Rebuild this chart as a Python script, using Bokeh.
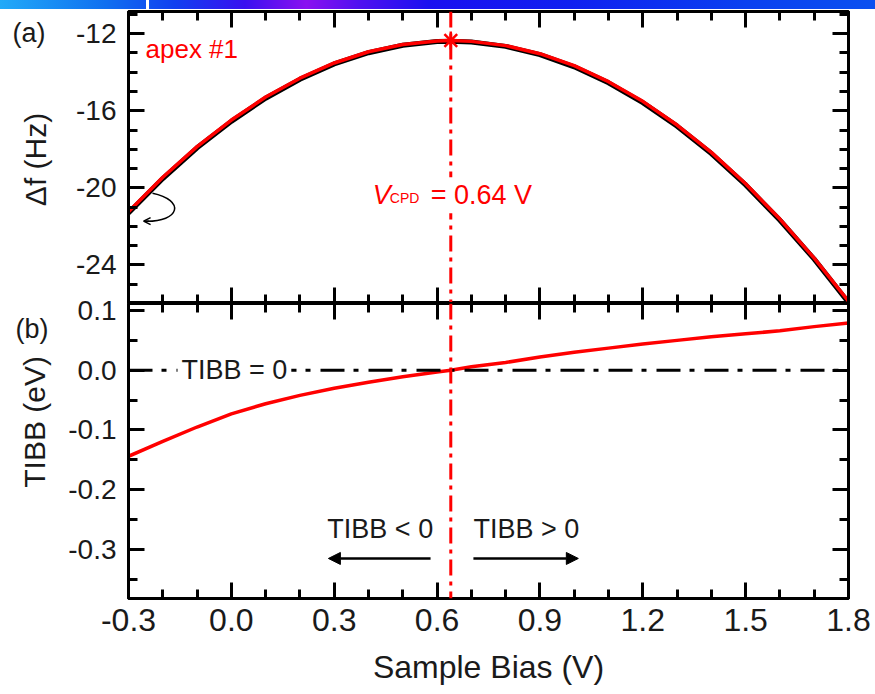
import math
from bokeh.plotting import figure
from bokeh.models import (Range1d, LinearAxis, FixedTicker, Span, Label, Arrow,
                          NormalHead, OpenHead, Div, ColumnDataSource,
                          CustomLabelingPolicy)
from bokeh.layouts import column, row
from bokeh.embed import file_html
from bokeh.resources import INLINE

# ---------------- data ----------------
bias_v = [-0.3, -0.2, -0.1, 0.0, 0.1, 0.2, 0.3, 0.4, 0.5, 0.6, 0.64, 0.7, 0.8,
          0.9, 1.0, 1.1, 1.2, 1.3, 1.4, 1.5, 1.6, 1.7, 1.8]
df_fit_hz = [-21.24, -19.45, -17.86, -16.48, -15.29, -14.31, -13.52, -12.94,
             -12.56, -12.38, -12.36, -12.40, -12.62, -13.04, -13.66, -14.49,
             -15.51, -16.74, -18.16, -19.79, -21.62, -23.65, -25.88]
df_measured_hz = [-21.30, -19.52, -17.92, -16.55, -15.35, -14.37, -13.57, -12.99,
                  -12.60, -12.41, -12.39, -12.43, -12.66, -13.09, -13.72, -14.55,
                  -15.58, -16.80, -18.22, -19.85, -21.68, -23.70, -25.95]
tibb_ev = [-0.144, -0.119, -0.095, -0.073, -0.056, -0.042, -0.030, -0.020,
           -0.011, -0.003, 0.0, 0.006, 0.013, 0.022, 0.030, 0.037, 0.044,
           0.050, 0.056, 0.061, 0.066, 0.073, 0.079]
apex_v = [0.64]
apex_df_hz = [-12.36]
v_cpd = 0.64

x_ticks = [-0.3, 0.0, 0.3, 0.6, 0.9, 1.2, 1.5, 1.8]
x_tick_labels = ["-0.3", "0.0", "0.3", "0.6", "0.9", "1.2", "1.5", "1.8"]
x_minor = [-0.2, -0.1, 0.1, 0.2, 0.4, 0.5, 0.7, 0.8, 1.0, 1.1, 1.3, 1.4, 1.6, 1.7]
df_ticks = [-12, -16, -20, -24]
df_tick_labels = ["-12", "-16", "-20", "-24"]
df_minor = [-11, -13, -14, -15, -17, -18, -19, -21, -22, -23, -25, -26]
tibb_ticks = [0.1, 0.0, -0.1, -0.2, -0.3]
tibb_tick_labels = ["0.1", "0.0", "-0.1", "-0.2", "-0.3"]
tibb_minor = [0.05, -0.05, -0.15, -0.25, -0.35]

FONT = "Liberation Sans"
RED = "#ff0000"
INK = "#1a1a1a"
STRIP_W = 60
OVERLAP = 12   # bottom canvas starts this far above the shared frame line

src = ColumnDataSource(dict(v=bias_v, fit=df_fit_hz, meas=df_measured_hz, tibb=tibb_ev))


def style_axis(ax, ticks, minor, labels=None, size="28px"):
    ax.ticker = FixedTicker(ticks=ticks, minor_ticks=minor)
    ax.major_tick_in = 16
    ax.major_tick_out = 0
    ax.minor_tick_in = 9
    ax.minor_tick_out = 0
    ax.major_tick_line_width = 3
    ax.minor_tick_line_width = 3
    ax.major_tick_line_color = "black"
    ax.minor_tick_line_color = "black"
    ax.axis_line_width = 3
    ax.axis_line_color = "black"
    ax.axis_label = None
    if labels is not None:
        ax.major_label_overrides = {t: s for t, s in zip(ticks, labels)}
        ax.major_label_text_font = FONT
        ax.major_label_text_font_size = size
        ax.major_label_text_color = INK
        ax.major_label_standoff = 12
    else:
        ax.major_label_text_font_size = "0px"
        ax.major_label_standoff = 0
        ax.major_label_policy = CustomLabelingPolicy(code="return new Set()")


def make_fig(height, yr, top, bottom, **kw):
    p = figure(width=875 - STRIP_W, height=height, x_range=Range1d(-0.3, 1.8), y_range=yr,
               output_backend="svg", toolbar_location=None,
               min_border_left=128 - STRIP_W, min_border_right=27,
               min_border_top=top, min_border_bottom=bottom, **kw)
    p.grid.visible = False
    p.outline_line_color = "black"
    p.outline_line_width = 3
    p.background_fill_color = "white"
    p.border_fill_color = "white"
    return p


def make_strip(height, page_top):
    # narrow strip left of a panel; its ranges are page pixel positions
    s = figure(width=STRIP_W, height=height, x_range=Range1d(0, STRIP_W),
               y_range=Range1d(page_top + height, page_top),
               output_backend="svg", toolbar_location=None,
               x_axis_location=None, y_axis_location=None,
               min_border_left=0, min_border_right=0, min_border_top=0, min_border_bottom=0)
    s.grid.visible = False
    s.outline_line_color = None
    s.background_fill_color = "white"
    s.border_fill_color = "white"
    return s


# ---------------- top panel (a) ----------------
pa = make_fig(294, Range1d(-26.0, -10.85), 2, 0)
style_axis(pa.xaxis[0], x_ticks, x_minor)
style_axis(pa.yaxis[0], df_ticks, df_minor, df_tick_labels)
ra = LinearAxis()
style_axis(ra, df_ticks, df_minor)
pa.add_layout(ra, "right")
ta = LinearAxis()
style_axis(ta, x_ticks, x_minor)
pa.add_layout(ta, "above")

pa.add_layout(Span(location=v_cpd, dimension="height", line_color=RED,
                   line_width=3, line_dash="16 6 4 6"))
pa.line("v", "meas", source=src, line_color="black", line_width=5)
pa.line("v", "fit", source=src, line_color=RED, line_width=3.5)
pa.scatter(apex_v, apex_df_hz, marker="asterisk", size=18, line_color=RED, line_width=2.5)

# curved pointer to the left axis
pa.bezier(x0=[-0.230], y0=[-20.28], x1=[-0.253], y1=[-21.73],
          cx0=[-0.134], cy0=[-20.64], cx1=[-0.148], cy1=[-21.78],
          line_color="black", line_width=1.5)
pa.add_layout(Arrow(end=OpenHead(size=7, line_width=1.5, line_color="black"),
                    x_start=-0.240, y_start=-21.73, x_end=-0.256, y_end=-21.73,
                    line_width=1.5, line_color="black"))

pa.add_layout(Label(x=-0.3, y=-12.80, x_offset=17, text="apex #1", text_font=FONT,
                    text_font_size="26px", text_baseline="alphabetic", text_color=RED))
pa.add_layout(Label(x=v_cpd, y=-20.38, x_offset=-23, text="= 0.64 V", text_font=FONT,
                    text_font_size="27px", text_baseline="alphabetic", text_color=RED,
                    background_fill_color="white", padding=3))
pa.add_layout(Label(x=v_cpd, y=-20.38, x_offset=-78, text="V", text_font=FONT,
                    text_font_size="27px", text_font_style="italic",
                    text_baseline="alphabetic", text_color=RED))
pa.add_layout(Label(x=v_cpd, y=-20.54, x_offset=-61, text="CPD", text_font=FONT,
                    text_font_size="14px", text_baseline="alphabetic", text_color=RED))

sa = make_strip(294, 9)
sa.add_layout(Label(x=12, y=31, text="(a)", text_font=FONT, text_font_size="27px",
                    text_baseline="middle", text_align="left", text_color=INK))
sa.add_layout(Label(x=35, y=158, text="Δf (Hz)", text_font=FONT, text_font_size="30px",
                    text_baseline="middle", text_align="center", angle=math.pi / 2,
                    text_color=INK))

# ---------------- bottom panel (b) ----------------
pb = make_fig(391 + OVERLAP, Range1d(-0.382, 0.1117), OVERLAP, 96,
              margin=(-OVERLAP, 0, 0, 0))
pb.border_fill_alpha = 0.0
style_axis(pb.xaxis[0], x_ticks, x_minor, x_tick_labels, size="32px")
pb.xaxis[0].major_label_standoff = 10
pb.xaxis[0].axis_label = "Sample Bias (V)"
pb.xaxis[0].axis_label_text_font = FONT
pb.xaxis[0].axis_label_text_font_size = "32px"
pb.xaxis[0].axis_label_text_font_style = "normal"
pb.xaxis[0].axis_label_text_color = INK
pb.xaxis[0].axis_label_standoff = 15
style_axis(pb.yaxis[0], tibb_ticks, tibb_minor, tibb_tick_labels)
rb = LinearAxis()
style_axis(rb, tibb_ticks, tibb_minor)
pb.add_layout(rb, "right")
tb = LinearAxis()
style_axis(tb, x_ticks, x_minor)
pb.add_layout(tb, "above")

pb.add_layout(Span(location=0.0, dimension="width", line_color="black",
                   line_width=3, line_dash="24 9 5 10"))
pb.add_layout(Span(location=v_cpd, dimension="height", line_color=RED,
                   line_width=3, line_dash="16 6 4 6"))
pb.line("v", "tibb", source=src, line_color=RED, line_width=3.5)

pb.add_layout(Label(x=-0.3, y=0.0, x_offset=49, text="TIBB = 0", text_font=FONT,
                    text_font_size="27px", text_baseline="middle", text_color=INK,
                    background_fill_color="white", padding=4))
pb.add_layout(Label(x=0.280, y=-0.266, text="TIBB < 0", text_font=FONT,
                    text_font_size="27px", text_baseline="middle", text_color=INK))
pb.add_layout(Label(x=0.706, y=-0.266, text="TIBB > 0", text_font=FONT,
                    text_font_size="27px", text_baseline="middle", text_color=INK))
pb.add_layout(Arrow(end=NormalHead(size=12, fill_color="black", line_color="black"),
                    x_start=0.581, y_start=-0.315, x_end=0.283, y_end=-0.315,
                    line_width=2.5, line_color="black"))
pb.add_layout(Arrow(end=NormalHead(size=12, fill_color="black", line_color="black"),
                    x_start=0.706, y_start=-0.315, x_end=1.012, y_end=-0.315,
                    line_width=2.5, line_color="black"))

sb = make_strip(391, 303)
sb.add_layout(Label(x=15, y=321, text="(b)", text_font=FONT, text_font_size="27px",
                    text_baseline="middle", text_align="left", text_color=INK))
sb.add_layout(Label(x=34, y=450, text="TIBB (eV)", text_font=FONT, text_font_size="30px",
                    text_baseline="middle", text_align="center", angle=math.pi / 2,
                    text_color=INK))

bar = Div(text="", width=875, height=9, margin=0,
          styles={"background": "linear-gradient(90deg, transparent 146px, #ffffff 146px, "
                                 "#ffffff 149px, transparent 149px), "
                                 "linear-gradient(90deg, #22aaf8 0%, #1070f0 12%, #1040f0 20%, "
                                 "#3a10f0 28%, #8a10f0 35%, #5010f0 41%, #1a10f0 49%, "
                                 "#1020f0 65%, #0a40f0 85%, #0a50f0 100%)"})

layout = column(bar, row(sa, pa, spacing=0), row(sb, pb, spacing=0), spacing=0)
open("out.html", "w").write(file_html(layout, INLINE))
